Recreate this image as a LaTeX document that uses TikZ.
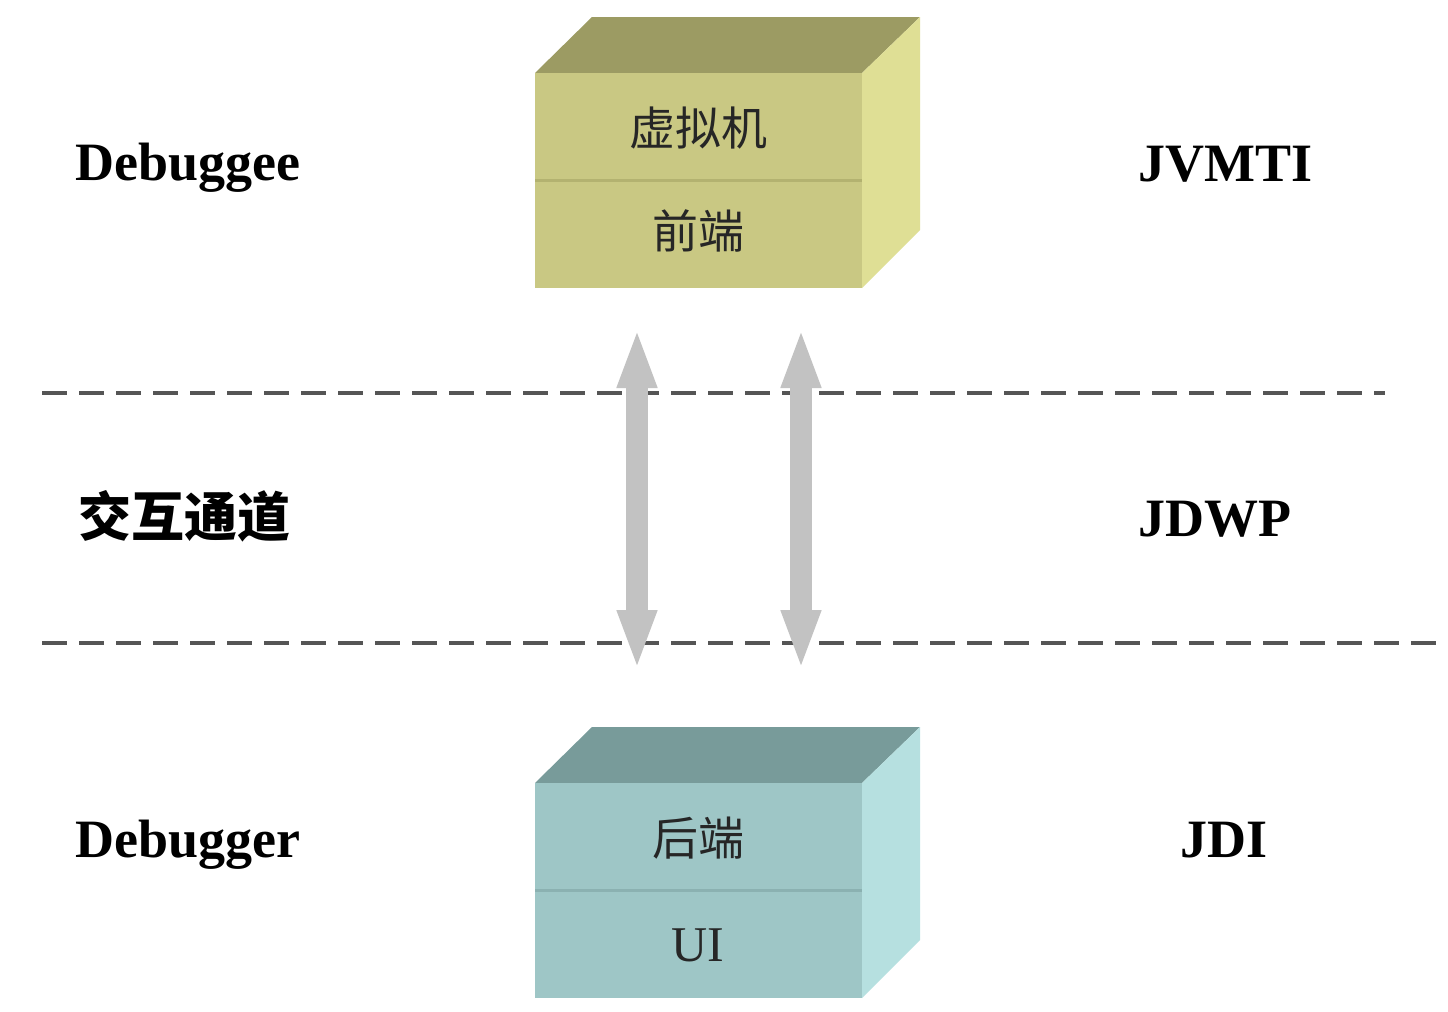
\documentclass[tikz,border=0pt]{standalone}
\usepackage{fontspec}
\setmainfont{Liberation Serif}
\newfontfamily\cjk{Noto Sans CJK SC}
\usetikzlibrary{arrows.meta}

\definecolor{vmfront}{HTML}{C9C883}
\definecolor{vmtop}{HTML}{9C9B63}
\definecolor{vmside}{HTML}{DFDF95}
\definecolor{vmline}{HTML}{B3B270}
\definecolor{dbfront}{HTML}{9EC6C6}
\definecolor{dbtop}{HTML}{789B9A}
\definecolor{dbside}{HTML}{B6E0E0}
\definecolor{dbline}{HTML}{8BB1B1}
\definecolor{chan}{HTML}{C2C2C2}
\definecolor{sep}{HTML}{555555}

\tikzset{
  sidelabel/.style={font=\fontsize{27}{30}\selectfont\bfseries, text=black, inner sep=0pt, anchor=base west},
  boxtext/.style={font=\fontsize{23}{26}\selectfont\cjk, text=black!85, inner sep=0pt},
  boxlatin/.style={font=\fontsize{25}{28}\selectfont, text=black!85, inner sep=0pt},
  layerline/.style={draw=sep, line width=2pt, dash pattern=on 12.5pt off 6pt},
  channel/.style={draw=chan, line width=11pt,
    {Triangle[length=30pt,width=18pt]}-{Triangle[length=30pt,width=18pt]}},
}

\begin{document}
\begin{tikzpicture}[x=0.5pt,y=-0.5pt]
  \useasboundingbox[fill=white] (0,0) rectangle (1448,1012);

  % layer separators
  \coordinate (s1a) at (42,393);
  \coordinate (s1b) at (1385,393);
  \coordinate (s2a) at (42,643);
  \coordinate (s2b) at (1440,643);
  \draw[layerline] (s1a) -- (s1b);
  \draw[layerline] (s2a) -- (s2b);

  % debuggee box: virtual machine over front end
  \fill[vmtop] (535,73) -- (592,17) -- (920,17) -- (862,73) -- cycle;
  \fill[vmside] (862,73) -- (920,17) -- (920,230) -- (862,288) -- cycle;
  \fill[vmfront] (535,73) rectangle (862,288);
  \draw[vmline, line width=1.5pt] (535,180) -- (862,180);
  \node[boxtext] (vm) at (698,128) {虚拟机};
  \node[boxtext] (fe) at (698,231) {前端};

  % debugger box: back end over UI
  \fill[dbtop] (535,783) -- (592,727) -- (920,727) -- (862,783) -- cycle;
  \fill[dbside] (862,783) -- (920,727) -- (920,940) -- (862,998) -- cycle;
  \fill[dbfront] (535,783) rectangle (862,998);
  \draw[dbline, line width=1.5pt] (535,890) -- (862,890);
  \node[boxtext] (be) at (698,838) {后端};
  \node[boxlatin] (ui) at (698,945) {UI};

  % communication channel arrows
  \coordinate (a1t) at (637,328);
  \coordinate (a1b) at (637,670);
  \coordinate (a2t) at (801,328);
  \coordinate (a2b) at (801,670);
  \draw[channel] (a1t) -- (a1b);
  \draw[channel] (a2t) -- (a2b);

  % left column: roles
  \node[sidelabel] (l1) at (75,180) {Debuggee};
  \node[sidelabel, font=\fontsize{26.5}{30}\selectfont\cjk\bfseries] (l2) at (78,536) {交互通道};
  \node[sidelabel] (l3) at (75,857) {Debugger};

  % right column: interfaces
  \node[sidelabel] (r1) at (1138,181) {JVMTI};
  \node[sidelabel] (r2) at (1138,536) {JDWP};
  \node[sidelabel] (r3) at (1180,857) {JDI};
\end{tikzpicture}
\end{document}
